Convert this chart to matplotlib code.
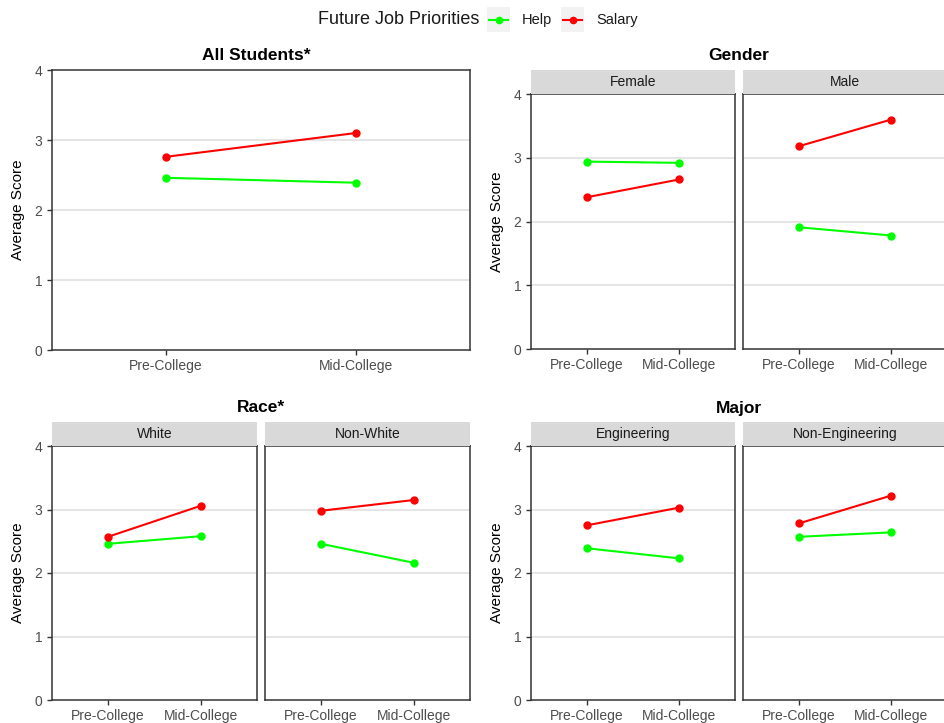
import numpy as np
import matplotlib
matplotlib.use("Agg")
from matplotlib import pyplot as plt
from matplotlib.patches import Rectangle

plt.rcParams.update({
    "font.family": ["Liberation Sans", "DejaVu Sans"],
    "font.size": 10,
})

W, H = 944, 723
stages = ["Pre-College", "Mid-College"]
series_names = ["Help", "Salary"]

# All students
all_help = [2.46, 2.39]
all_salary = [2.76, 3.10]

# Gender
gender_groups = ["Female", "Male"]
gender_help = [[2.94, 2.92], [1.91, 1.78]]
gender_salary = [[2.38, 2.66], [3.18, 3.60]]

# Race
race_groups = ["White", "Non-White"]
race_help = [[2.46, 2.58], [2.46, 2.16]]
race_salary = [[2.57, 3.06], [2.98, 3.15]]

# Major
major_groups = ["Engineering", "Non-Engineering"]
major_help = [[2.39, 2.23], [2.57, 2.64]]
major_salary = [[2.75, 3.03], [2.78, 3.22]]

HELP_COLOR = "#00FF00"
SALARY_COLOR = "#FF0000"
GRID = "#DEDEDE"
BORDER = "#333333"
TICKTXT = "#4D4D4D"
STRIP = "#D9D9D9"

fig = plt.figure(figsize=(W / 100, H / 100), dpi=100)


def px_axes(x0, y0, x1, y1):
    # pixel box (top-left origin) -> figure axes
    return fig.add_axes([x0 / W, 1 - y1 / H, (x1 - x0) / W, (y1 - y0) / H])


def draw_panel(ax, help_vals, salary_vals, show_y=True):
    x = np.arange(1, len(stages) + 1)
    ax.plot(x, help_vals, color=HELP_COLOR, lw=1.5, marker="o", ms=5, zorder=3)
    ax.plot(x, salary_vals, color=SALARY_COLOR, lw=1.5, marker="o", ms=5, zorder=3)
    ax.set_xlim(0.4, 2.6)
    ax.set_ylim(0, 4)
    ax.set_xticks(x)
    ax.set_xticklabels(stages)
    ax.set_yticks([0, 1, 2, 3, 4])
    for v in [1, 2, 3]:
        ax.axhline(v, color=GRID, lw=1.1, zorder=1)
    for s in ax.spines.values():
        s.set_color(BORDER)
        s.set_linewidth(1.1)
    ax.tick_params(colors=TICKTXT, labelsize=10, length=3.5, width=1, color=BORDER)
    ax.tick_params(axis="x", pad=3)
    if not show_y:
        ax.tick_params(axis="y", left=False, labelleft=False)


def strip(x0, x1, y0, y1, label):
    sa = px_axes(x0, y0, x1, y1)
    sa.set_xlim(0, 1)
    sa.set_ylim(0, 1)
    sa.axis("off")
    sa.add_patch(Rectangle((0, 0), 1, 1, facecolor=STRIP, edgecolor="none"))
    sa.text(0.5, 0.5, label, ha="center", va="center", fontsize=10, color="#1A1A1A")


# --- All Students ---
ax = px_axes(52, 70, 470, 350)
draw_panel(ax, all_help, all_salary)
ax.set_ylabel("Average Score", fontsize=11, labelpad=7)
fig.text(256 / W, 1 - 56 / H, "All Students*", ha="center", va="center",
         fontsize=12.5, fontweight="bold")


def faceted(x_left, x_right, top, bottom, groups, helps, salaries, title):
    gap = 8
    width = (x_right - x_left - gap) / 2
    strip_h = 24
    for i, g in enumerate(groups):
        xa = x_left + i * (width + gap)
        ax = px_axes(xa, top, xa + width, bottom)
        draw_panel(ax, helps[i], salaries[i], show_y=(i == 0))
        if i == 0:
            ax.set_ylabel("Average Score", fontsize=11, labelpad=7)
        strip(xa, xa + width, top - strip_h, top, g)
    fig.text((x_left + x_right) / 2 / W, 1 - (top - strip_h - 14) / H, title,
             ha="center", va="center", fontsize=12.5, fontweight="bold")


faceted(531, 947, 94, 349, gender_groups, gender_help, gender_salary, "Gender")
faceted(52, 470, 446, 700, race_groups, race_help, race_salary, "Race*")
faceted(531, 947, 446, 700, major_groups, major_help, major_salary, "Major")

# --- Legend at top (built by hand, ggplot style) ---
lg = fig.add_axes([0, 0, 1, 1], zorder=-1)
lg.set_xlim(0, W)
lg.set_ylim(H, 0)
lg.axis("off")
lg.text(318, 20, "Future Job Priorities", ha="left", va="center", fontsize=13,
        color="#1A1A1A")
key_x = [487, 561]
for kx, name, col in zip(key_x, series_names, [HELP_COLOR, SALARY_COLOR]):
    lg.add_patch(Rectangle((kx, 7), 23, 25, facecolor="#F2F2F2", edgecolor="none"))
    lg.plot([kx + 2, kx + 21], [20, 20], color=col, lw=1.5)
    lg.plot([kx + 11.5], [20], marker="o", ms=4.5, color=col)
    lg.text(kx + 35, 20, name, ha="left", va="center", fontsize=10.5,
            color="#1A1A1A")

fig.savefig("out.png", dpi=100)
